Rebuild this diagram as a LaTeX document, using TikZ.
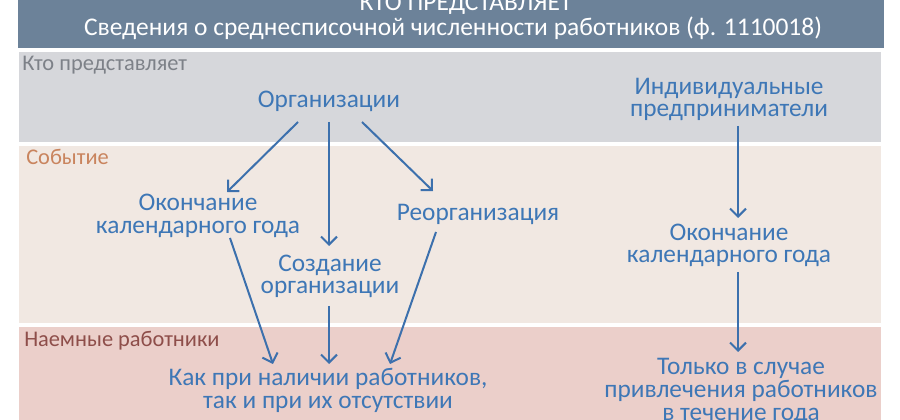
\documentclass[tikz,border=0pt]{standalone}
\usepackage{fontspec}
\setmainfont{Carlito}
\usetikzlibrary{arrows.meta,calc}
\definecolor{hdr}{HTML}{6C8299}
\definecolor{bandA}{HTML}{D6D7DB}
\definecolor{bandB}{HTML}{F1E8E2}
\definecolor{bandC}{HTML}{EBCFCA}
\definecolor{txtblue}{HTML}{3E77B6}
\definecolor{arrblue}{HTML}{3C70AD}
\definecolor{lblA}{HTML}{7D8188}
\definecolor{lblB}{HTML}{C9845E}
\definecolor{lblC}{HTML}{8E4E4A}
\tikzset{
  item/.style={inner sep=0pt, anchor=base, align=center, text=txtblue,
    font=\fontsize{19}{16.9}\selectfont},
  lbl/.style={inner sep=0pt, anchor=base west, font=\fontsize{16.8}{18}\selectfont},
  arr/.style={draw=arrblue, line width=1.5pt, -{Straight Barb[length=6pt,width=12pt,line width=1.5pt]}},
  head/.style={inner sep=0pt, anchor=base, text=white, font=\fontsize{19.1}{20}\selectfont}
}
\begin{document}
\begin{tikzpicture}[x=0.75pt,y=-0.75pt]
\useasboundingbox (0,0) rectangle (900,420);
\fill[white] (0,0) rectangle (900,420);
% bands
\fill[hdr] (18,-5) rectangle (884,48);
\fill[bandA] (19,52) rectangle (881,142);
\fill[bandB] (19,146) rectangle (881,323);
\fill[bandC] (19,327) rectangle (881,425);
% header
\node[head] (h1) at (466,11) {КТО ПРЕДСТАВЛЯЕТ};
\node[head] (h2) at (453,36) {Сведения о среднесписочной численности работников (ф. 1110018)};
% labels
\node[lbl, text=lblA] (l1) at (22,71) {Кто представляет};
\node[lbl, text=lblB] (l2) at (26,165) {Событие};
\node[lbl, text=lblC] (l3) at (24,347) {Наемные работники};
% items (base = baseline of last line)
\node[item] (org) at (329,108) {Организации};
\node[item] (ip) at (729,117) {Индивидуальные\\предприниматели};
\node[item] (ok1) at (198,233.5) {Окончание\\календарного года};
\node[item] (reorg) at (478,221) {Реорганизация};
\node[item] (sozd) at (330,294) {Создание\\организации};
\node[item] (ok2) at (729,263) {Окончание\\календарного года};
\node[item] (kak) at (328,408) {Как при наличии работников,\\так и при их отсутствии};
\node[item] (tolko) at (741,420) {Только в случае\\привлечения работников\\в течение года};
% arrows
\draw[arr] ($(org.base)+(-31,14)$) -- ($(ok1.base)+(29,-41.5)$);
\draw[arr] ($(org.base)+(0,14)$) -- ($(sozd.base)+(-1,-48)$);
\draw[arr] ($(org.base)+(33,14)$) -- ($(reorg.base)+(-45,-30)$);
\draw[arr] ($(ok1.base)+(32,4.5)$) -- ($(kak.base)+(-55,-44)$);
\draw[arr] ($(sozd.base)+(-1,12)$) -- ($(kak.base)+(1,-44)$);
\draw[arr] ($(reorg.base)+(-42,11)$) -- ($(kak.base)+(62,-44)$);
\draw[arr] ($(ip.base)+(9,9)$) -- ($(ok2.base)+(9,-45)$);
\draw[arr] ($(ok2.base)+(9,9)$) -- ($(tolko.base)+(-3,-68)$);
\end{tikzpicture}
\end{document}
